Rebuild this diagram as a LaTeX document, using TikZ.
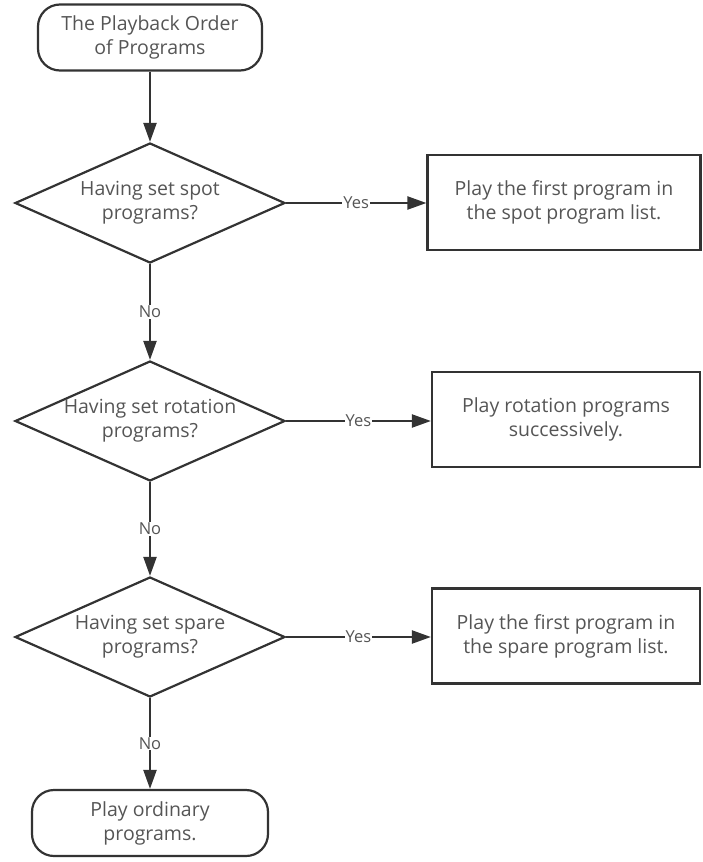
\documentclass[tikz,border=0pt]{standalone}
\usepackage{fontspec}
\setmainfont{Open Sans}
\usetikzlibrary{arrows.meta,shapes.geometric}
\definecolor{lnc}{HTML}{333333}
\definecolor{txc}{HTML}{555555}
\tikzset{
  base/.style={draw=lnc, line width=2.2pt, text=txc, font=\fontsize{19.5}{24}\selectfont, align=center, inner sep=0pt},
  term/.style={base, rounded corners=22pt, minimum width=#1, minimum height=66pt},
  dec/.style={base, diamond, aspect=2.25, minimum width=270pt, minimum height=120pt},
  proc/.style={base, minimum width=272pt, minimum height=95pt},
  conn/.style={draw=lnc, line width=2.2pt, -{Triangle[length=19pt,width=13pt]}},
  lbl/.style={fill=white, text=txc, font=\fontsize{16.5}{18}\selectfont, inner sep=1pt}
}
\begin{document}
\begin{tikzpicture}[x=1pt,y=-1pt]
\useasboundingbox (0,0) rectangle (702,862);
\node[term=224pt] (start) at (150,37.5) {The Playback Order\\of Programs};
\node[dec] (d1) at (150,203) {Having set spot\\programs?};
\node[dec] (d2) at (150,421) {Having set rotation\\programs?};
\node[dec] (d3) at (150,637) {Having set spare\\programs?};
\node[term=236pt] (end) at (150,823) {Play ordinary\\programs.};
\node[proc, minimum width=273pt] (p1) at (564,202.5) {Play the first program in\\the spot program list.};
\node[proc, minimum width=268pt] (p2) at (566,419.5) {Play rotation programs\\successively.};
\node[proc, minimum width=268pt] (p3) at (566,636) {Play the first program in\\the spare program list.};
\draw[conn] (start) -- (d1);
\draw[conn] (d1) -- node[lbl]{No} (d2);
\draw[conn] (d2) -- node[lbl]{No} (d3);
\draw[conn] (d3) -- node[lbl]{No} (end);
\draw[conn] (d1.east) -- node[lbl]{Yes} (p1.west |- d1.east);
\draw[conn] (d2.east) -- node[lbl]{Yes} (p2.west |- d2.east);
\draw[conn] (d3.east) -- node[lbl]{Yes} (p3.west |- d3.east);
\end{tikzpicture}
\end{document}
